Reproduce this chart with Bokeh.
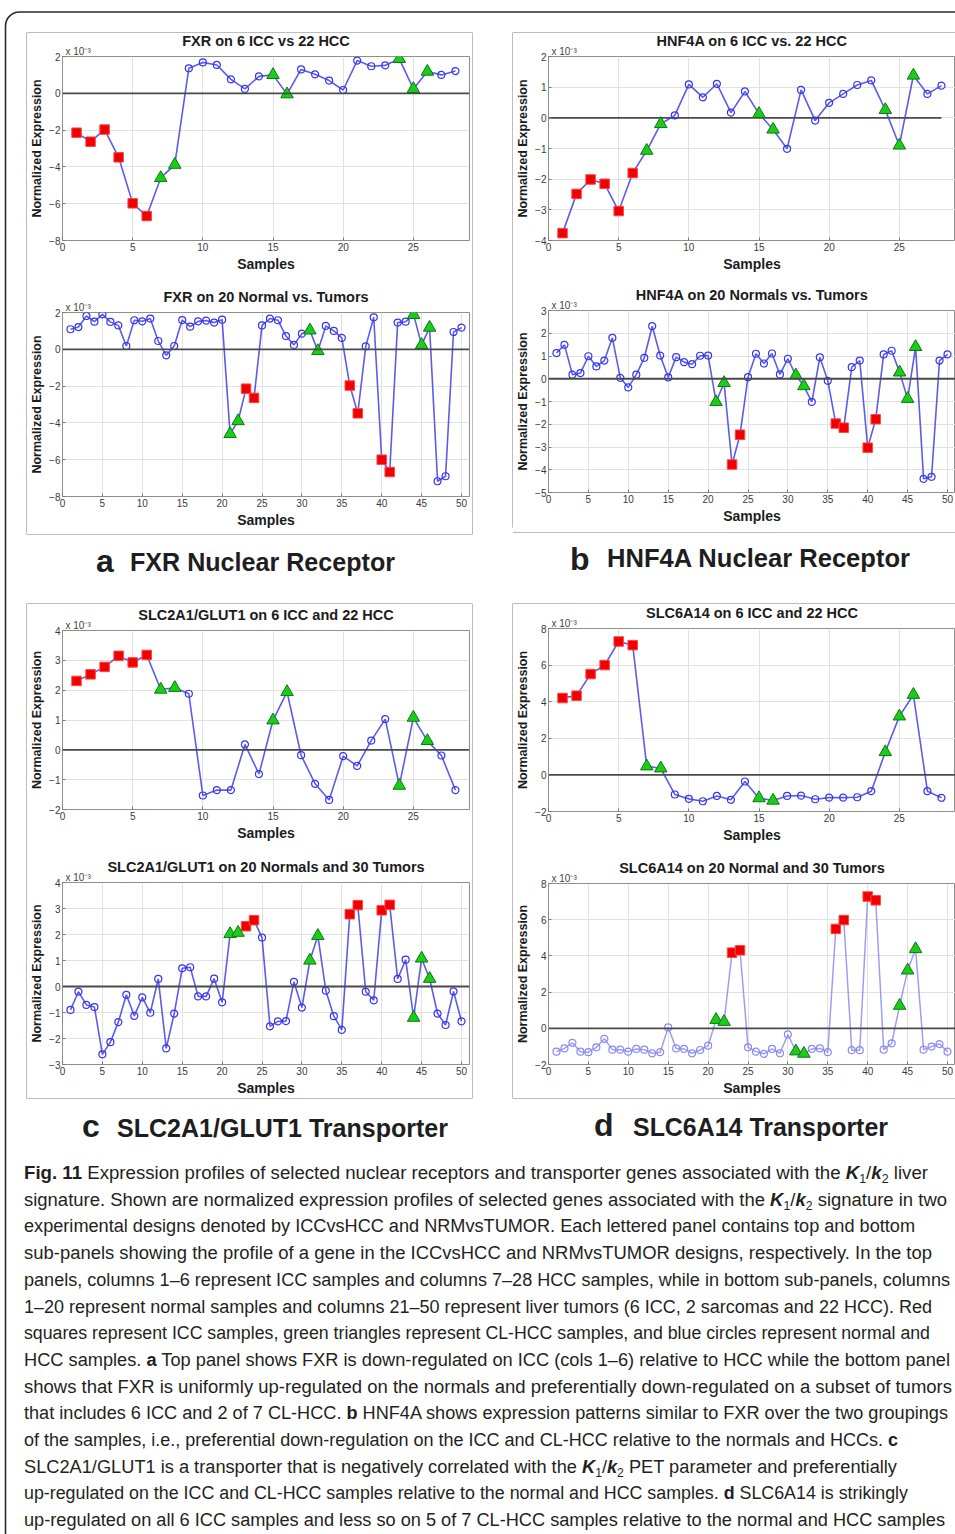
from bokeh.plotting import figure
from bokeh.layouts import column, row
from bokeh.models import Div, FixedTicker, Range1d, Span, Title
from bokeh.embed import file_html
from bokeh.resources import INLINE

# ---------------------------------------------------------------- data
# sample columns (1-based) that are ICC (red squares) and CL-HCC (green triangles)
TOP_ICC = [1, 2, 3, 4, 5, 6]
TOP_CLHCC = [7, 8, 15, 16, 24, 25, 26]
BOT_ICC = [23, 24, 36, 37, 40, 41]
BOT_CLHCC = [21, 22, 31, 32, 44, 45, 46]

# normalized expression, in units of 1e-3
fxr_icc_hcc = [-2.14, -2.63, -1.97, -3.48, -5.98, -6.67, -4.6, -3.88, 1.36, 1.68,
               1.54, 0.76, 0.24, 0.92, 1.0, -0.05, 1.30, 1.03, 0.69, 0.18,
               1.78, 1.47, 1.52, 1.87, 0.24, 1.18, 1.0, 1.21]
fxr_nrm_tumor = [1.09, 1.21, 1.81, 1.50, 1.90, 1.49, 1.30, 0.18, 1.58, 1.52,
                 1.67, 0.45, -0.33, 0.18, 1.59, 1.23, 1.52, 1.56, 1.45, 1.61,
                 -4.6, -3.9, -2.14, -2.64, 1.30, 1.67, 1.58, 0.72, 0.24, 0.85,
                 1.03, -0.09, 1.27, 1.0, 0.62, -1.97, -3.48, 0.16, 1.74, -6.0,
                 -6.67, 1.45, 1.50, 1.87, 0.24, 1.18, -7.17, -6.9, 0.94, 1.18]
hnf4a_icc_hcc = [-3.76, -2.48, -2.01, -2.15, -3.04, -1.80, -1.07, -0.2, 0.08, 1.09,
                 0.67, 1.11, 0.17, 0.86, 0.13, -0.38, -1.01, 0.91, -0.09, 0.49,
                 0.78, 1.07, 1.22, 0.26, -0.9, 1.38, 0.78, 1.05]
hnf4a_nrm_tumor = [1.13, 1.49, 0.18, 0.25, 0.99, 0.54, 0.80, 1.80, 0.04, -0.38,
                   0.18, 0.92, 2.31, 1.02, 0.06, 0.95, 0.73, 0.64, 1.01, 1.02,
                   -1.02, -0.18, -3.77, -2.46, 0.07, 1.10, 0.67, 1.11, 0.19, 0.88,
                   0.15, -0.32, -1.02, 0.94, -0.09, -1.97, -2.15, 0.51, 0.80, -3.03,
                   -1.78, 1.07, 1.23, 0.28, -0.88, 1.40, -4.40, -4.31, 0.80, 1.07]
slc2a1_icc_hcc = [2.31, 2.53, 2.78, 3.15, 2.93, 3.18, 2.02, 2.08, 1.88, -1.53,
                  -1.35, -1.35, 0.18, -0.81, 0.99, 1.94, -0.18, -1.14, -1.68, -0.21,
                  -0.54, 0.31, 1.03, -1.2, 1.08, 0.30, -0.19, -1.35]
slc2a1_nrm_tumor = [-0.90, -0.20, -0.71, -0.79, -2.61, -2.14, -1.37, -0.32, -1.13, -0.42,
                    -1.01, 0.29, -2.38, -1.04, 0.70, 0.74, -0.38, -0.38, 0.30, -0.61,
                    2.02, 2.07, 2.32, 2.55, 1.88, -1.53, -1.34, -1.33, 0.18, -0.81,
                    1.0, 1.95, -0.16, -1.14, -1.67, 2.78, 3.13, -0.20, -0.53, 2.93,
                    3.14, 0.29, 1.03, -1.2, 1.08, 0.30, -1.04, -1.48, -0.19, -1.34]
slc6a14_icc_hcc = [4.2, 4.33, 5.51, 6.0, 7.29, 7.09, 0.47, 0.36, -1.07, -1.31,
                   -1.44, -1.15, -1.36, -0.36, -1.27, -1.4, -1.15, -1.13, -1.33, -1.24,
                   -1.24, -1.22, -0.89, 1.25, 3.2, 4.38, -0.89, -1.25]
slc6a14_nrm_tumor = [-1.29, -1.11, -0.80, -1.29, -1.32, -1.05, -0.58, -1.18, -1.18, -1.29,
                     -1.14, -1.18, -1.38, -1.32, 0.05, -1.11, -1.14, -1.38, -1.2, -0.96,
                     0.47, 0.36, 4.18, 4.31, -1.05, -1.29, -1.41, -1.14, -1.38, -0.34,
                     -1.27, -1.4, -1.14, -1.11, -1.32, 5.49, 5.98, -1.21, -1.21, 7.28,
                     7.07, -1.18, -0.83, 1.25, 3.2, 4.38, -1.18, -1.01, -0.87, -1.29]

# ---------------------------------------------------------------- styles
AX_FONT = "Liberation Sans"
FRAME = "#2a2a2a"
BOX = "#bcbcbc"


def expression_plot(title, values, icc, clhcc, x_end, y_lim, y_step, width, height,
                    borders, faint=False, zero_to_last=False):
    left, right, top, bottom = borders
    p = figure(width=width, height=height, x_range=Range1d(0, x_end),
               y_range=Range1d(*y_lim), output_backend="svg", toolbar_location=None,
               min_border_left=left, min_border_right=right, min_border_top=top,
               min_border_bottom=bottom, outline_line_color="#8e8e8e",
               background_fill_color="white", border_fill_color="white", margin=0)
    p.title.text = title
    p.title.align = "center"
    p.title.text_font = AX_FONT
    p.title.text_font_size = "14.5px"
    p.title.text_font_style = "bold"
    p.title.text_color = "#1c1c1c"
    p.title.standoff = -10

    # exponent note at the top-left corner of the frame
    p.add_layout(Title(text="x 10⁻³", align="left", offset=3, standoff=0,
                       text_font=AX_FONT, text_font_size="10px",
                       text_font_style="normal", text_color="#444444"), "above")

    xt = FixedTicker(ticks=list(range(0, x_end, 5)))
    yt = FixedTicker(ticks=list(range(y_lim[0], y_lim[1] + 1, y_step)))
    p.xaxis.ticker = xt
    p.yaxis.ticker = yt
    p.xgrid.ticker = xt
    p.ygrid.ticker = yt
    for g in (p.xgrid, p.ygrid):
        g.grid_line_color = "#e2e2e2"
        g.grid_line_width = 1
    for ax in (p.xaxis, p.yaxis):
        ax.axis_line_color = None
        ax.major_tick_in = 3
        ax.major_tick_out = 0
        ax.major_tick_line_color = "#777777"
        ax.minor_tick_line_color = None
        ax.major_label_text_font = AX_FONT
        ax.major_label_text_font_size = "10px"
        ax.major_label_text_color = "#3a3a3a"
        ax.major_label_standoff = 2
        ax.axis_label_text_font = AX_FONT
        ax.axis_label_text_font_style = "bold"
        ax.axis_label_text_color = "#1c1c1c"
        ax.axis_label_standoff = 2
    p.xaxis.axis_label = "Samples"
    p.xaxis.axis_label_text_font_size = "14px"
    p.yaxis.axis_label = "Normalized Expression"
    p.yaxis.axis_label_text_font_size = "12.5px"

    xs = list(range(1, len(values) + 1))
    if zero_to_last:
        p.line([0, len(values)], [0, 0], line_color="#4a4a4a", line_width=1.8)
    else:
        p.add_layout(Span(location=0, dimension="width", line_color="#4a4a4a",
                          line_width=1.8))

    line_col = "#7c7cf2" if faint else "#3f3fe6"
    p.line(xs, values, line_color=line_col, line_width=1.5 if faint else 1.6,
           line_alpha=0.75 if faint else 0.85)

    bx = [x for x in xs if x not in icc and x not in clhcc]
    p.scatter(bx, [values[x - 1] for x in bx], marker="circle", size=7,
              fill_color=None, line_color="#8a8af5" if faint else "#3535f0",
              line_width=1.2)
    p.scatter(icc, [values[x - 1] for x in icc], marker="square", size=9.5,
              fill_color="#f00000", line_color="#ff4545", line_width=1)
    p.scatter(clhcc, [values[x - 1] for x in clhcc], marker="triangle", size=12.5,
              fill_color="#1ccc1c", line_color="#0b7a0b", line_width=1)
    return p


def svg_div(width, height, body):
    html = (f'<svg xmlns="http://www.w3.org/2000/svg" width="{width}" height="{height}" '
            f'style="display:block;overflow:visible">{body}</svg>')
    return Div(text=html, width=width, height=height, margin=0)


def seg(x1, y1, x2, y2, color=BOX, w=1):
    return (f'<line x1="{x1}" y1="{y1}" x2="{x2}" y2="{y2}" stroke="{color}" '
            f'stroke-width="{w}"/>')


def frame_left(h):
    return seg(5.5, 0, 5.5, h, FRAME, 1.6)


# ---------------------------------------------------------------- subplots
a_top = expression_plot("FXR on 6 ICC vs 22 HCC", fxr_icc_hcc, TOP_ICC, TOP_CLHCC,
                        29, (-8, 2), 2, 445, 251, (30, 3, 23, 44))
a_bot = expression_plot("FXR on 20 Normal vs. Tumors", fxr_nrm_tumor, BOT_ICC, BOT_CLHCC,
                        51, (-8, 2), 2, 445, 250, (30, 3, 28, 38))
b_top = expression_plot("HNF4A on 6 ICC vs. 22 HCC", hnf4a_icc_hcc, TOP_ICC, TOP_CLHCC,
                        29, (-4, 2), 1, 442, 250, (30, 0, 23, 43), zero_to_last=True)
b_bot = expression_plot("HNF4A on 20 Normals vs. Tumors", hnf4a_nrm_tumor, BOT_ICC,
                        BOT_CLHCC, 51, (-5, 3), 1, 442, 244, (30, 0, 27, 35))
c_top = expression_plot("SLC2A1/GLUT1 on 6 ICC and 22 HCC", slc2a1_icc_hcc, TOP_ICC,
                        TOP_CLHCC, 29, (-2, 4), 1, 445, 251, (30, 3, 26, 46))
c_bot = expression_plot("SLC2A1/GLUT1 on 20 Normals and 30 Tumors", slc2a1_nrm_tumor,
                        BOT_ICC, BOT_CLHCC, 51, (-3, 4), 1, 445, 243, (30, 3, 27, 32))
d_top = expression_plot("SLC6A14 on 6 ICC and 22 HCC", slc6a14_icc_hcc, TOP_ICC,
                        TOP_CLHCC, 29, (-2, 8), 2, 442, 251, (30, 0, 24, 44))
d_bot = expression_plot("SLC6A14 on 20 Normal and 30 Tumors", slc6a14_nrm_tumor, BOT_ICC,
                        BOT_CLHCC, 51, (-2, 8), 2, 442, 243, (30, 0, 28, 31), faint=True)

# ---------------------------------------------------------------- page furniture
top_div = svg_div(955, 33,
                  f'<path d="M5.5,33 L5.5,26 A14,14 0 0 1 19.5,12 L955,12" fill="none" '
                  f'stroke="{FRAME}" stroke-width="1.6"/>'
                  + seg(26.5, 32.5, 472.5, 32.5) + seg(512.5, 32.5, 955, 32.5))
row1_left = svg_div(27, 501, frame_left(501) + seg(26.5, 0, 26.5, 501))
gap1 = svg_div(41, 501, seg(0.5, 0, 0.5, 501) + seg(40.5, 0, 40.5, 494.5))
b_foot = svg_div(442, 7, seg(0, 0.5, 442, 0.5))

LABEL_FONT = 'font-family="Liberation Sans" font-weight="bold" fill="#1e1e1e"'


def panel_label(letter, lx, ly, name, nx, ny, nw):
    return (f'<text x="{lx}" y="{ly}" {LABEL_FONT} font-size="32">{letter}</text>'
            f'<text x="{nx}" y="{ny}" {LABEL_FONT} font-size="25" textLength="{nw}" '
            f'lengthAdjust="spacingAndGlyphs">{name}</text>')


labels1 = svg_div(955, 70,
                  frame_left(70) + seg(26.5, 0.5, 472.5, 0.5)
                  + seg(26.5, 69.5, 472.5, 69.5) + seg(512.5, 69.5, 955, 69.5)
                  + panel_label("a", 96, 38, "FXR Nuclear Receptor", 130, 37, 265)
                  + panel_label("b", 570, 36, "HNF4A Nuclear Receptor", 607, 33, 303))
row2_left = svg_div(27, 494, frame_left(494) + seg(26.5, 0, 26.5, 494))
gap2 = svg_div(41, 494, seg(0.5, 0, 0.5, 494) + seg(40.5, 0, 40.5, 494))
labels2 = svg_div(955, 52,
                  frame_left(52) + seg(26.5, 0.5, 472.5, 0.5) + seg(512.5, 0.5, 955, 0.5)
                  + panel_label("c", 82, 39, "SLC2A1/GLUT1 Transporter", 117, 39, 331)
                  + panel_label("d", 594, 38, "SLC6A14 Transporter", 633, 38, 255))

# ---------------------------------------------------------------- caption
KK = ('<tspan font-weight="bold" font-style="italic">K</tspan>'
      '<tspan font-size="12" dy="4">1</tspan><tspan dy="-4">/</tspan>'
      '<tspan font-weight="bold" font-style="italic">k</tspan>'
      '<tspan font-size="12" dy="4">2</tspan>')


def b(t):
    return f'<tspan font-weight="bold">{t}</tspan>'


caption_lines = [
    (b("Fig. 11") + " Expression profiles of selected nuclear receptors and transporter genes "
     "associated with the " + KK + '<tspan dy="-4"> liver</tspan>', 928, 18),
    ("signature. Shown are normalized expression profiles of selected genes associated with the "
     + KK + '<tspan dy="-4"> signature in two</tspan>', 947, 18),
    ("experimental designs denoted by ICCvsHCC and NRMvsTUMOR. Each lettered panel contains "
     "top and bottom", 915, 18),
    ("sub-panels showing the profile of a gene in the ICCvsHCC and NRMvsTUMOR designs, "
     "respectively. In the top", 932, 18),
    ("panels, columns 1–6 represent ICC samples and columns 7–28 HCC samples, while in bottom "
     "sub-panels, columns", 950, 18),
    ("1–20 represent normal samples and columns 21–50 represent liver tumors (6 ICC, 2 sarcomas "
     "and 22 HCC). Red", 932, 18),
    ("squares represent ICC samples, green triangles represent CL-HCC samples, and blue circles "
     "represent normal and", 930, 18),
    ("HCC samples. " + b("a") + " Top panel shows FXR is down-regulated on ICC (cols 1–6) "
     "relative to HCC while the bottom panel", 950, 18),
    ("shows that FXR is uniformly up-regulated on the normals and preferentially down-regulated "
     "on a subset of tumors", 952, 18),
    ("that includes 6 ICC and 2 of 7 CL-HCC. " + b("b") + " HNF4A shows expression patterns "
     "similar to FXR over the two groupings", 948, 18),
    ("of the samples, i.e., preferential down-regulation on the ICC and CL-HCC relative to the "
     "normals and HCCs. " + b("c"), 898, 18),
    ("SLC2A1/GLUT1 is a transporter that is negatively correlated with the " + KK
     + '<tspan dy="-4"> PET parameter and preferentially</tspan>', 897, 18),
    ("up-regulated on the ICC and CL-HCC samples relative to the normal and HCC samples. "
     + b("d") + " SLC6A14 is strikingly", 908, 17.6),
    ("up-regulated on all 6 ICC samples and less so on 5 of 7 CL-HCC samples relative to the "
     "normal and HCC samples", 945, 18),
]

cap_body = frame_left(384)
for i, (markup, x_end, fs) in enumerate(caption_lines):
    y = 29 + 26.7 * i
    cap_body += (f'<text x="24" y="{y:.1f}" font-family="Liberation Sans" font-size="{fs}" '
                 f'fill="#231f20" style="white-space:pre" textLength="{x_end - 24}" '
                 f'lengthAdjust="spacingAndGlyphs">{markup}</text>')
caption = svg_div(955, 384, cap_body)

# ---------------------------------------------------------------- layout
col_a = column(a_top, a_bot, spacing=0, margin=0)
col_b = column(b_top, b_bot, b_foot, spacing=0, margin=0)
col_c = column(c_top, c_bot, spacing=0, margin=0)
col_d = column(d_top, d_bot, spacing=0, margin=0)

page = column(
    top_div,
    row(row1_left, col_a, gap1, col_b, spacing=0, margin=0),
    labels1,
    row(row2_left, col_c, gap2, col_d, spacing=0, margin=0),
    labels2,
    caption,
    spacing=0, margin=0,
)

with open("out.html", "w") as f:
    f.write(file_html(page, INLINE, title="Fig. 11 expression profiles"))
